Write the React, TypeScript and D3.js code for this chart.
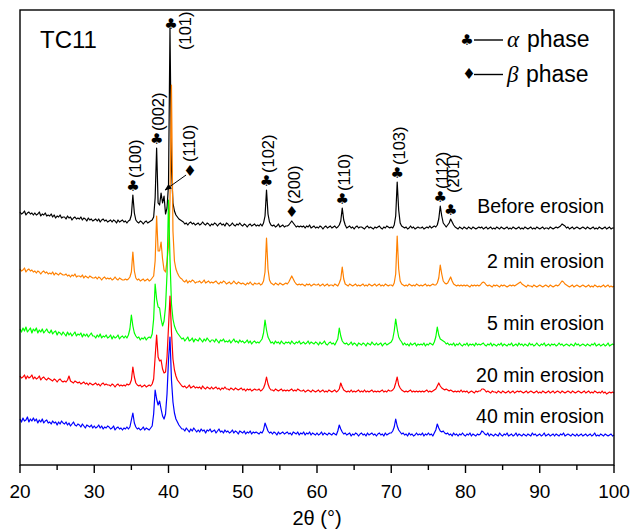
import React from 'react';
import * as d3 from 'd3';

// XRD scans of TC11, 2θ from 20° to 100° in 0.2° steps (intensity in a.u.)
const THETA_START = 20;
const THETA_STEP = 0.2;

const beforeErosion = [
  21, 19, 20, 22, 18, 20, 21, 19, 20, 18,
  20, 18, 19, 21, 17, 19, 18, 20, 17, 18,
  17, 19, 16, 18, 15, 17, 16, 18, 15, 16,
  16, 14, 17, 15, 16, 13, 15, 16, 14, 15,
  14, 16, 13, 15, 14, 12, 15, 13, 14, 12,
  13, 14, 12, 14, 11, 13, 14, 12, 13, 11,
  12, 13, 11, 13, 12, 10, 13, 11, 12, 13,
  11, 12, 10, 12, 13, 18, 38, 20, 13, 11,
  10, 12, 11, 9, 11, 12, 10, 11, 12, 13,
  16, 35, 85, 30, 28, 40, 30, 37, 19, 25,
  48, 205, 65, 30, 22, 18, 16, 14, 13, 12,
  11, 9, 10, 8, 10, 11, 9, 10, 8, 9,
  10, 8, 9, 11, 9, 8, 10, 9, 7, 9,
  8, 10, 9, 7, 9, 10, 8, 9, 7, 10,
  9, 7, 8, 10, 8, 7, 9, 8, 10, 8,
  7, 9, 8, 6, 8, 9, 7, 8, 9, 7,
  8, 7, 9, 7, 10, 17, 43, 19, 11, 8,
  7, 8, 6, 7, 9, 6, 7, 8, 6, 7,
  7, 8, 10, 12, 10, 8, 6, 7, 6, 7,
  6, 7, 5, 7, 6, 8, 5, 6, 7, 5,
  6, 5, 7, 6, 4, 6, 7, 5, 6, 7,
  5, 6, 7, 5, 6, 8, 12, 25, 13, 8,
  5, 6, 7, 5, 6, 4, 6, 7, 5, 6,
  6, 5, 4, 6, 7, 5, 6, 5, 4, 6,
  5, 6, 7, 5, 4, 6, 5, 7, 6, 5,
  6, 5, 8, 17, 51, 23, 10, 7, 6, 5,
  6, 4, 5, 7, 5, 6, 4, 5, 6, 5,
  5, 6, 4, 5, 6, 5, 7, 5, 6, 7,
  6, 8, 14, 27, 17, 10, 8, 6, 8, 10,
  14, 11, 8, 6, 5, 4, 6, 5, 4, 6,
  5, 4, 6, 5, 4, 6, 5, 4, 5, 6,
  5, 6, 4, 5, 6, 4, 5, 6, 4, 5,
  4, 6, 5, 4, 6, 5, 4, 5, 6, 4,
  5, 4, 6, 5, 4, 5, 6, 4, 5, 4,
  6, 5, 4, 5, 6, 4, 5, 4, 6, 5,
  4, 5, 6, 4, 5, 5, 4, 6, 5, 4,
  5, 6, 5, 6, 7, 9, 8, 7, 5, 6,
  4, 5, 6, 4, 5, 6, 5, 4, 5, 6,
  5, 4, 6, 5, 4, 5, 6, 4, 5, 4,
  6, 5, 4, 5, 6, 4, 5, 6, 4, 5,
  5,
];

const erosion2min = [
  22, 20, 21, 23, 19, 21, 22, 20, 21, 19,
  20, 18, 20, 19, 17, 19, 20, 18, 19, 17,
  18, 17, 19, 16, 18, 17, 16, 18, 17, 16,
  16, 17, 15, 16, 14, 16, 15, 17, 14, 15,
  15, 14, 16, 13, 15, 14, 13, 15, 14, 13,
  13, 14, 12, 14, 13, 11, 13, 14, 12, 13,
  12, 13, 11, 12, 14, 12, 11, 13, 12, 11,
  11, 12, 11, 12, 14, 19, 39, 20, 13, 11,
  12, 10, 11, 12, 10, 11, 12, 10, 11, 13,
  15, 30, 75, 40, 40, 49, 32, 21, 19, 30,
  45, 90, 206, 60, 30, 22, 18, 15, 13, 12,
  10, 9, 11, 8, 10, 9, 11, 10, 8, 9,
  9, 10, 8, 9, 11, 8, 9, 10, 8, 9,
  8, 9, 10, 8, 7, 9, 8, 10, 9, 7,
  8, 9, 7, 8, 10, 8, 7, 9, 8, 7,
  8, 7, 6, 8, 7, 9, 7, 6, 8, 7,
  7, 8, 6, 7, 10, 19, 53, 22, 11, 8,
  7, 6, 8, 7, 6, 8, 7, 6, 7, 8,
  7, 9, 12, 15, 12, 9, 7, 6, 7, 6,
  7, 6, 5, 7, 6, 7, 5, 6, 7, 6,
  6, 7, 5, 6, 7, 5, 6, 7, 5, 6,
  6, 5, 7, 6, 5, 8, 12, 24, 12, 7,
  6, 5, 7, 6, 5, 6, 7, 5, 6, 5,
  6, 7, 5, 6, 5, 7, 6, 5, 6, 7,
  5, 6, 7, 5, 6, 5, 7, 6, 5, 6,
  6, 5, 8, 17, 55, 22, 10, 7, 6, 5,
  6, 5, 7, 6, 5, 6, 5, 7, 6, 5,
  6, 5, 6, 7, 5, 6, 5, 6, 7, 6,
  6, 8, 13, 26, 17, 10, 8, 7, 8, 11,
  14, 10, 7, 6, 5, 6, 5, 6, 5, 6,
  5, 6, 5, 4, 6, 5, 6, 5, 6, 5,
  6, 8, 9, 8, 6, 5, 6, 5, 4, 6,
  5, 6, 5, 4, 6, 5, 6, 5, 4, 5,
  6, 5, 6, 5, 6, 7, 8, 9, 7, 6,
  5, 4, 6, 5, 5, 4, 6, 5, 4, 5,
  6, 5, 4, 5, 6, 5, 4, 6, 5, 4,
  5, 6, 5, 6, 8, 10, 9, 7, 6, 5,
  4, 5, 6, 4, 5, 6, 5, 4, 5, 6,
  5, 4, 5, 6, 4, 5, 4, 6, 5, 4,
  5, 4, 5, 6, 4, 5, 6, 4, 5, 4,
  5,
];

const erosion5min = [
  21, 18, 22, 19, 23, 18, 20, 22, 17, 21,
  19, 22, 17, 20, 18, 21, 17, 19, 21, 18,
  17, 20, 16, 18, 19, 15, 18, 17, 15, 18,
  16, 14, 18, 15, 17, 14, 16, 18, 14, 16,
  15, 17, 13, 16, 14, 16, 13, 15, 17, 14,
  14, 12, 15, 13, 16, 12, 14, 13, 15, 12,
  13, 15, 11, 14, 12, 13, 15, 11, 13, 14,
  12, 14, 12, 15, 21, 35, 24, 17, 14, 12,
  13, 10, 12, 11, 13, 10, 12, 13, 12, 16,
  31, 66, 51, 43, 42, 31, 24, 29, 43, 76,
  150, 91, 46, 31, 24, 20, 17, 15, 13, 11,
  12, 9, 11, 13, 9, 10, 12, 8, 11, 10,
  9, 12, 10, 8, 11, 9, 12, 10, 8, 10,
  10, 8, 11, 9, 7, 10, 9, 11, 8, 9,
  8, 10, 7, 9, 11, 8, 9, 7, 10, 8,
  9, 7, 8, 10, 7, 9, 6, 8, 9, 7,
  8, 7, 9, 11, 17, 30, 20, 13, 10, 7,
  8, 6, 9, 7, 8, 6, 9, 7, 6, 8,
  7, 8, 6, 9, 7, 6, 8, 7, 9, 6,
  7, 8, 6, 7, 9, 6, 8, 7, 6, 8,
  7, 5, 8, 6, 7, 9, 6, 5, 7, 8,
  6, 7, 5, 8, 11, 22, 14, 9, 7, 6,
  7, 5, 6, 8, 5, 7, 6, 4, 7, 6,
  5, 7, 6, 4, 7, 6, 5, 8, 6, 5,
  7, 5, 6, 7, 4, 6, 7, 5, 6, 7,
  8, 11, 19, 31, 21, 13, 10, 8, 5, 7,
  5, 6, 4, 7, 5, 6, 7, 4, 6, 5,
  6, 5, 7, 4, 6, 5, 7, 6, 5, 8,
  13, 23, 15, 11, 10, 9, 8, 6, 7, 5,
  6, 5, 7, 4, 6, 5, 7, 5, 4, 6,
  5, 7, 4, 6, 5, 6, 4, 7, 5, 6,
  5, 6, 7, 5, 4, 6, 5, 7, 4, 6,
  5, 4, 6, 5, 7, 4, 6, 5, 4, 6,
  5, 7, 4, 5, 6, 4, 7, 5, 6, 4,
  6, 5, 4, 7, 5, 6, 4, 5, 7, 5,
  4, 6, 5, 7, 4, 5, 6, 4, 6, 5,
  6, 4, 5, 7, 5, 6, 4, 5, 6, 5,
  4, 6, 5, 4, 7, 5, 6, 4, 5, 6,
  5, 4, 6, 5, 4, 6, 5, 7, 4, 5,
  6, 4, 5, 6, 4, 5, 7, 4, 5, 6,
  5,
];

const erosion20min = [
  21, 19, 20, 22, 18, 21, 19, 20, 22, 18,
  20, 18, 19, 21, 17, 19, 20, 18, 17, 19,
  18, 17, 16, 18, 17, 15, 17, 18, 16, 15,
  16, 15, 17, 21, 16, 15, 14, 16, 15, 14,
  15, 13, 14, 15, 13, 14, 12, 14, 13, 12,
  13, 14, 12, 13, 11, 13, 14, 12, 13, 12,
  12, 11, 13, 12, 10, 12, 13, 11, 12, 11,
  12, 11, 13, 12, 13, 17, 30, 20, 14, 12,
  11, 12, 10, 11, 12, 10, 11, 12, 11, 13,
  18, 40, 62, 40, 36, 37, 28, 24, 25, 40,
  70, 101, 65, 38, 27, 21, 17, 15, 13, 11,
  10, 11, 9, 10, 12, 9, 10, 11, 9, 10,
  9, 10, 8, 11, 9, 8, 10, 9, 8, 10,
  8, 9, 10, 8, 9, 7, 9, 8, 10, 8,
  8, 7, 9, 8, 7, 9, 8, 7, 8, 9,
  7, 8, 6, 8, 7, 8, 6, 7, 8, 7,
  7, 8, 6, 7, 9, 13, 20, 13, 9, 7,
  7, 6, 8, 7, 6, 7, 8, 6, 7, 6,
  7, 6, 7, 8, 6, 7, 6, 8, 7, 6,
  6, 7, 5, 6, 7, 6, 5, 7, 6, 5,
  6, 7, 5, 6, 7, 5, 6, 5, 7, 6,
  5, 6, 7, 5, 6, 8, 14, 10, 7, 6,
  5, 6, 5, 7, 5, 6, 5, 6, 7, 5,
  6, 5, 7, 5, 6, 5, 6, 7, 5, 6,
  5, 6, 5, 6, 7, 5, 6, 5, 7, 6,
  6, 7, 9, 14, 20, 12, 9, 7, 6, 5,
  6, 5, 6, 7, 5, 6, 5, 6, 5, 6,
  5, 6, 5, 6, 7, 5, 6, 5, 6, 7,
  8, 11, 14, 11, 9, 8, 7, 8, 7, 6,
  7, 6, 5, 6, 5, 6, 5, 7, 5, 6,
  5, 6, 4, 5, 6, 5, 4, 6, 5, 6,
  6, 8, 8, 7, 5, 6, 5, 4, 6, 5,
  5, 4, 6, 5, 4, 6, 5, 4, 5, 6,
  4, 5, 6, 4, 5, 6, 5, 6, 5, 4,
  5, 6, 4, 5, 6, 5, 4, 5, 6, 4,
  5, 4, 6, 5, 4, 5, 6, 4, 5, 6,
  4, 5, 6, 5, 4, 6, 5, 4, 5, 6,
  5, 4, 6, 5, 4, 5, 6, 5, 4, 5,
  6, 4, 5, 6, 4, 5, 4, 6, 5, 4,
  5, 4, 6, 4, 5, 3, 4, 5, 4, 5,
  4,
];

const erosion40min = [
  21, 18, 22, 19, 20, 23, 18, 21, 19, 22,
  19, 21, 17, 20, 18, 21, 17, 19, 20, 17,
  18, 16, 19, 17, 18, 15, 18, 16, 19, 17,
  16, 18, 15, 17, 14, 16, 18, 15, 14, 16,
  15, 13, 16, 14, 12, 15, 14, 13, 15, 12,
  14, 12, 13, 15, 12, 14, 11, 13, 12, 14,
  13, 11, 12, 14, 10, 12, 13, 11, 12, 10,
  12, 11, 13, 11, 13, 20, 27, 17, 13, 11,
  12, 10, 11, 13, 10, 12, 11, 10, 12, 14,
  26, 50, 41, 35, 39, 31, 24, 21, 26, 46,
  80, 103, 60, 38, 27, 21, 18, 15, 13, 11,
  11, 9, 12, 10, 8, 11, 9, 12, 10, 8,
  10, 8, 11, 9, 10, 7, 10, 9, 11, 8,
  9, 10, 7, 9, 11, 8, 9, 7, 10, 8,
  9, 7, 8, 10, 7, 9, 8, 6, 9, 8,
  7, 9, 6, 8, 7, 9, 6, 8, 7, 8,
  7, 6, 8, 7, 10, 17, 13, 9, 7, 8,
  6, 8, 7, 5, 8, 6, 7, 8, 6, 7,
  8, 6, 7, 5, 8, 7, 6, 8, 5, 7,
  6, 8, 5, 7, 6, 8, 5, 7, 6, 5,
  7, 5, 6, 8, 5, 7, 6, 5, 7, 6,
  5, 7, 6, 5, 9, 15, 11, 8, 6, 7,
  5, 6, 7, 4, 6, 5, 7, 6, 4, 6,
  7, 5, 6, 4, 7, 5, 6, 7, 5, 6,
  4, 6, 7, 5, 6, 4, 7, 5, 6, 7,
  7, 9, 13, 21, 14, 10, 8, 6, 7, 5,
  6, 4, 7, 5, 6, 4, 5, 7, 5, 6,
  5, 7, 4, 6, 5, 7, 5, 6, 4, 7,
  10, 16, 12, 9, 8, 9, 7, 6, 7, 5,
  6, 4, 7, 5, 6, 4, 6, 5, 7, 5,
  4, 6, 5, 7, 4, 6, 5, 4, 6, 5,
  6, 9, 8, 6, 5, 7, 4, 6, 5, 4,
  6, 5, 4, 7, 5, 4, 6, 5, 7, 4,
  5, 6, 4, 5, 7, 4, 6, 5, 4, 6,
  5, 4, 6, 5, 4, 7, 5, 6, 4, 5,
  6, 4, 5, 7, 4, 5, 6, 4, 5, 6,
  4, 6, 5, 4, 6, 5, 7, 4, 5, 6,
  5, 4, 6, 5, 4, 6, 4, 5, 6, 4,
  5, 6, 4, 5, 6, 4, 5, 7, 4, 5,
  4, 6, 5, 4, 6, 5, 4, 5, 6, 4,
  5,
];

// Stacking of the scans (first one on top, drawn first)
const sampleNames = ['Before erosion', '2 min erosion', '5 min erosion', '20 min erosion', '40 min erosion'];
const sampleOffsets = [232, 174, 115, 68, 25];
const sampleColors = ['#000000', '#FF8000', '#00FF00', '#FF0000', '#0000FF'];
const sampleSeries = [beforeErosion, erosion2min, erosion5min, erosion20min, erosion40min];

// Axis
const xMajorTicks = [20, 30, 40, 50, 60, 70, 80, 90, 100];
const xMinorTicks = [25, 35, 45, 55, 65, 75, 85, 95];

// Indexed reflections of the unexposed sample
const peakHkl = ['(100)', '(002)', '(101)', '(110)', '(102)', '(200)', '(110)', '(103)', '(112)', '(201)'];
const peakTheta = [35.2, 38.4, 40.2, 39.0, 53.2, 56.6, 63.4, 70.8, 76.6, 78.0];
const peakPhase = ['alpha', 'alpha', 'alpha', 'beta', 'alpha', 'beta', 'alpha', 'alpha', 'alpha', 'alpha'];

const SANS = "Arial, 'Liberation Sans', Helvetica, sans-serif";
const SERIF = "'Times New Roman', 'Liberation Serif', serif";
const SYMBOL_FONT = "'DejaVu Sans', sans-serif";
const CLUB = '\u2663';
const DIAMOND = '\u2666';

const WIDTH = 633;
const HEIGHT = 532;

export default function App() {
  const x = d3.scaleLinear().domain([20, 100]).range([20, 614]);
  const y = d3.scaleLinear().domain([0, 455]).range([465, 10]);
  const thetaAt = (i: number) => THETA_START + i * THETA_STEP;

  const paths = sampleSeries.map((values, s) =>
    d3
      .line<number>()
      .x((_, i) => x(thetaAt(i)))
      .y((v) => y(v + sampleOffsets[s]))(values) as string
  );

  // peak maximum of the top scan around a given reflection
  const peakTop = (theta: number) => {
    const c = Math.round((theta - THETA_START) / THETA_STEP);
    const local = beforeErosion.slice(Math.max(0, c - 1), c + 2);
    return d3.max(local)! + sampleOffsets[0];
  };

  const labelBaselines = [213, 268, 330, 382, 423];
  const plotLeft = x(20);
  const plotRight = x(100);
  const plotTop = y(455);
  const plotBottom = y(0);

  return (
    <svg
      width={WIDTH}
      height={HEIGHT}
      viewBox={`0 0 ${WIDTH} ${HEIGHT}`}
      style={{ position: 'absolute', left: 0, top: 0, background: '#fff' }}
      fontFamily={SANS}
    >
      <defs>
        <marker id="arrowHead" viewBox="0 0 10 10" refX="9" refY="5" markerWidth="7" markerHeight="7" orient="auto">
          <path d="M0,1 L10,5 L0,9 z" fill="#000" />
        </marker>
      </defs>
      <rect x={0} y={0} width={WIDTH} height={HEIGHT} fill="#fff" />

      {paths.map((d, s) => (
        <path key={sampleNames[s]} d={d} fill="none" stroke={sampleColors[s]} strokeWidth={1.2} strokeLinejoin="round" />
      ))}

      {/* frame */}
      <rect
        x={plotLeft}
        y={plotTop}
        width={plotRight - plotLeft}
        height={plotBottom - plotTop}
        fill="none"
        stroke="#000"
        strokeWidth={1.4}
      />

      {/* x axis ticks */}
      {xMajorTicks.map((t) => (
        <g key={`M${t}`}>
          <line x1={x(t)} x2={x(t)} y1={plotBottom} y2={plotBottom + 8} stroke="#000" strokeWidth={1.4} />
          <text x={x(t)} y={plotBottom + 33} textAnchor="middle" fontSize={19} fill="#000">
            {t}
          </text>
        </g>
      ))}
      {xMinorTicks.map((t) => (
        <line key={`m${t}`} x1={x(t)} x2={x(t)} y1={plotBottom} y2={plotBottom + 5} stroke="#000" strokeWidth={1.4} />
      ))}
      <text x={(plotLeft + plotRight) / 2} y={525} textAnchor="middle" fontSize={20} fill="#000">
        2θ (°)
      </text>

      {/* sample name */}
      <text x={40} y={48} fontSize={24} fill="#000">
        TC11
      </text>

      {/* phase key */}
      <g fill="#000">
        <text x={467} y={45} textAnchor="middle" fontSize={15} fontFamily={SYMBOL_FONT}>
          {CLUB}
        </text>
        <line x1={474} x2={503} y1={40} y2={40} stroke="#000" strokeWidth={1.4} />
        <text x={507} y={47} fontSize={23} fontFamily={SERIF} fontStyle="italic">
          α
        </text>
        <text x={527} y={47} fontSize={23}>
          phase
        </text>
        <text x={469} y={79} textAnchor="middle" fontSize={15} fontFamily={SYMBOL_FONT}>
          {DIAMOND}
        </text>
        <line x1={474} x2={503} y1={74.5} y2={74.5} stroke="#000" strokeWidth={1.4} />
        <text x={507} y={82} fontSize={23} fontFamily={SERIF} fontStyle="italic">
          β
        </text>
        <text x={526} y={82} fontSize={23}>
          phase
        </text>
      </g>

      {/* scan names */}
      {sampleNames.map((name, s) => (
        <text key={name} x={604} y={labelBaselines[s]} textAnchor="end" fontSize={19.5} fill="#000">
          {name}
        </text>
      ))}

      {/* reflection markers */}
      {peakHkl.map((hkl, k) => {
        const px = x(peakTheta[k]);
        const py = y(peakTop(peakTheta[k]));
        const symbol = peakPhase[k] === 'alpha' ? CLUB : DIAMOND;
        let sx = px;
        let sy = py - 9;
        let tx = px + 2;
        let ty = py - 17;
        let arrow: null | { x1: number; y1: number; x2: number; y2: number } = null;
        if (hkl === '(101)') {
          sx = px + 1;
          sy = py - 4;
          tx = px + 15;
          ty = py + 22;
        } else if (peakPhase[k] === 'beta' && hkl === '(110)') {
          sx = px + 29;
          sy = py - 22;
          tx = px + 28;
          ty = py - 31;
          arrow = { x1: px + 25, y1: py - 18, x2: px + 4, y2: py - 3 };
        } else if (hkl === '(201)') {
          tx = px + 3;
          ty = py - 26;
        }
        return (
          <g key={`${hkl}-${k}`} fill="#000">
            <text
              x={sx}
              y={sy}
              dy="0.36em"
              textAnchor="middle"
              fontSize={15}
              fontFamily={SYMBOL_FONT}
            >
              {symbol}
            </text>
            <text
              transform={`translate(${tx},${ty}) rotate(-90)`}
              dy="0.35em"
              fontSize={16.5}
            >
              {hkl}
            </text>
            {arrow && (
              <line
                x1={arrow.x1}
                y1={arrow.y1}
                x2={arrow.x2}
                y2={arrow.y2}
                stroke="#000"
                strokeWidth={1}
                markerEnd="url(#arrowHead)"
              />
            )}
          </g>
        );
      })}
    </svg>
  );
}
